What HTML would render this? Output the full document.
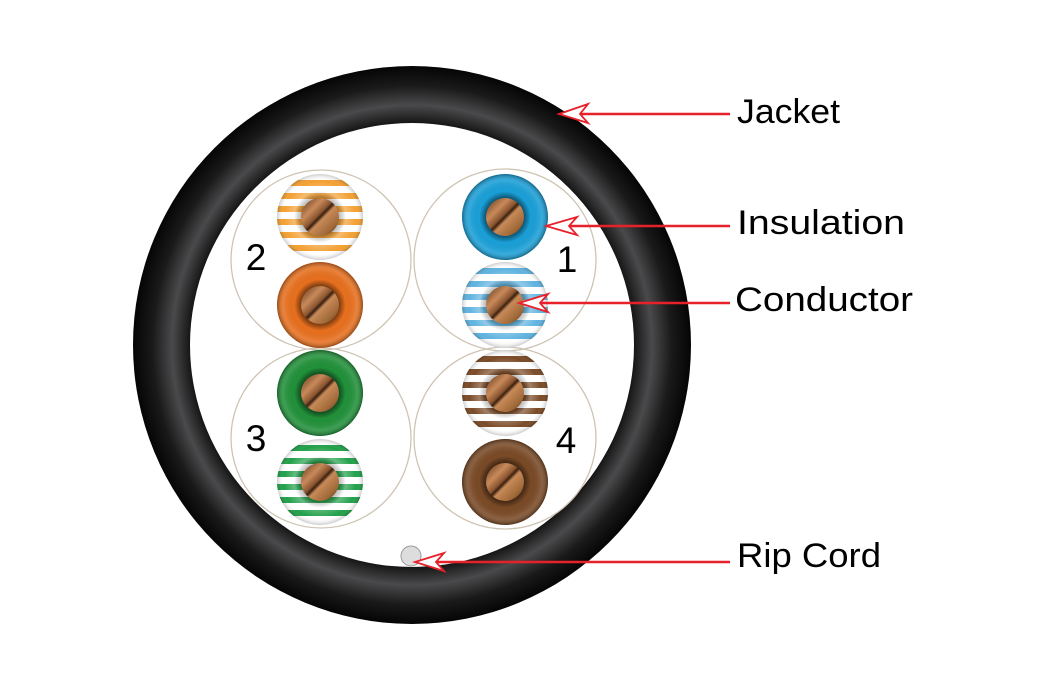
<!DOCTYPE html>
<html><head><meta charset="utf-8"><style>
html,body{margin:0;padding:0;background:#fff;width:1048px;height:700px;overflow:hidden}
text{font-family:"Liberation Sans",sans-serif}
</style></head><body>
<svg width="1048" height="700" viewBox="0 0 1048 700" xmlns="http://www.w3.org/2000/svg">
<defs>
<radialGradient id="jk" cx="412" cy="345" r="279" gradientUnits="userSpaceOnUse">
<stop offset="0.79" stop-color="#111"/><stop offset="0.86" stop-color="#4a4a4c"/><stop offset="0.93" stop-color="#1a1a1a"/><stop offset="1" stop-color="#050505"/></radialGradient>
<linearGradient id="cu" x1="0" y1="0" x2="1" y2="1">
<stop offset="0" stop-color="#5a3418"/><stop offset="0.3" stop-color="#c98a5a"/><stop offset="0.45" stop-color="#8a5530"/><stop offset="0.5" stop-color="#3a2010"/><stop offset="0.56" stop-color="#c88a58"/><stop offset="0.8" stop-color="#a06838"/><stop offset="1" stop-color="#4a2a12"/></linearGradient>
<radialGradient id="shade"><stop offset="0.45" stop-color="#000" stop-opacity="0.45"/><stop offset="0.6" stop-color="#000" stop-opacity="0"/><stop offset="0.85" stop-color="#fff" stop-opacity="0.12"/><stop offset="1" stop-color="#000" stop-opacity="0.35"/></radialGradient>
<radialGradient id="shadeS"><stop offset="0.45" stop-color="#000" stop-opacity="0.25"/><stop offset="0.6" stop-color="#fff" stop-opacity="0.3"/><stop offset="0.85" stop-color="#fff" stop-opacity="0"/><stop offset="1" stop-color="#000" stop-opacity="0.2"/></radialGradient>
<clipPath id="c43"><circle cx="0" cy="0" r="43"/></clipPath>
<g id="cond"><circle r="19" fill="url(#cu)"/></g>
</defs>
<circle cx="412" cy="345" r="279" fill="url(#jk)"/>
<circle cx="412" cy="345" r="222" fill="#fff"/>
<g fill="none" stroke="#cfc4b4" stroke-width="1.3">
<circle cx="321" cy="260" r="90"/><circle cx="505" cy="260" r="91"/>
<circle cx="321" cy="438" r="90"/><circle cx="505" cy="438" r="91"/>
</g>
<g transform="translate(505,217)"><circle r="43" fill="#1aa0d8"/><circle r="43" fill="url(#shade)"/><use href="#cond"/></g>
<g transform="translate(320,305)"><circle r="43" fill="#e8701e"/><circle r="43" fill="url(#shade)"/><use href="#cond"/></g>
<g transform="translate(320,393)"><circle r="43" fill="#21913a"/><circle r="43" fill="url(#shade)"/><use href="#cond"/></g>
<g transform="translate(505,482)"><circle r="43" fill="#7a4a26"/><circle r="43" fill="url(#shade)"/><use href="#cond"/></g>
<g transform="translate(320,217)"><g clip-path="url(#c43)"><rect x="-43" y="-43" width="86" height="86" fill="#fff"/><g fill="#f3a032"><rect x="-43" y="-37" width="86" height="6"/><rect x="-43" y="-24" width="86" height="6"/><rect x="-43" y="-11" width="86" height="6"/><rect x="-43" y="2" width="86" height="6"/><rect x="-43" y="15" width="86" height="6"/><rect x="-43" y="28" width="86" height="6"/></g></g><circle r="43" fill="url(#shadeS)"/><use href="#cond"/></g>
<g transform="translate(505,305)"><g clip-path="url(#c43)"><rect x="-43" y="-43" width="86" height="86" fill="#fff"/><g fill="#5fb3e0"><rect x="-43" y="-37" width="86" height="6"/><rect x="-43" y="-24" width="86" height="6"/><rect x="-43" y="-11" width="86" height="6"/><rect x="-43" y="2" width="86" height="6"/><rect x="-43" y="15" width="86" height="6"/><rect x="-43" y="28" width="86" height="6"/></g></g><circle r="43" fill="url(#shadeS)"/><use href="#cond"/></g>
<g transform="translate(505,393)"><g clip-path="url(#c43)"><rect x="-43" y="-43" width="86" height="86" fill="#fff"/><g fill="#7a4a26"><rect x="-43" y="-37" width="86" height="6"/><rect x="-43" y="-24" width="86" height="6"/><rect x="-43" y="-11" width="86" height="6"/><rect x="-43" y="2" width="86" height="6"/><rect x="-43" y="15" width="86" height="6"/><rect x="-43" y="28" width="86" height="6"/></g></g><circle r="43" fill="url(#shadeS)"/><use href="#cond"/></g>
<g transform="translate(320,482)"><g clip-path="url(#c43)"><rect x="-43" y="-43" width="86" height="86" fill="#fff"/><g fill="#22a04a"><rect x="-43" y="-37" width="86" height="6"/><rect x="-43" y="-24" width="86" height="6"/><rect x="-43" y="-11" width="86" height="6"/><rect x="-43" y="2" width="86" height="6"/><rect x="-43" y="15" width="86" height="6"/><rect x="-43" y="28" width="86" height="6"/></g></g><circle r="43" fill="url(#shadeS)"/><use href="#cond"/></g>
<g font-size="37" fill="#000" text-anchor="middle">
<text x="256" y="270">2</text><text x="567" y="272">1</text>
<text x="256" y="451">3</text><text x="566" y="453">4</text>
</g>
<circle cx="411" cy="556" r="10" fill="#ddd" stroke="#999" stroke-width="1"/>
<g stroke="#e8202a" stroke-width="2.5" fill="#fff" stroke-linejoin="miter">
<line x1="730" y1="114" x2="580" y2="114"/><path d="M588,104 L559,114 L588,123 L580,114 Z" stroke-width="1.8"/>
<line x1="730" y1="226" x2="568" y2="226"/><path d="M577,217 L546,226 L577,235 L569,226 Z" stroke-width="1.8"/>
<line x1="730" y1="303" x2="540" y2="303"/><path d="M548,294 L519,303 L548,312 L540,303 Z" stroke-width="1.8"/>
<line x1="730" y1="562" x2="436" y2="562"/><path d="M444,553 L415,562 L444,571 L436,562 Z" stroke-width="1.8"/>
</g>
<g font-size="34" fill="#000">
<text x="737" y="123" textLength="103" lengthAdjust="spacingAndGlyphs">Jacket</text>
<text x="737" y="234" textLength="168" lengthAdjust="spacingAndGlyphs">Insulation</text>
<text x="735" y="311" textLength="178" lengthAdjust="spacingAndGlyphs">Conductor</text>
<text x="737" y="567" textLength="144" lengthAdjust="spacingAndGlyphs">Rip Cord</text>
</g>
</svg>
</body></html>
